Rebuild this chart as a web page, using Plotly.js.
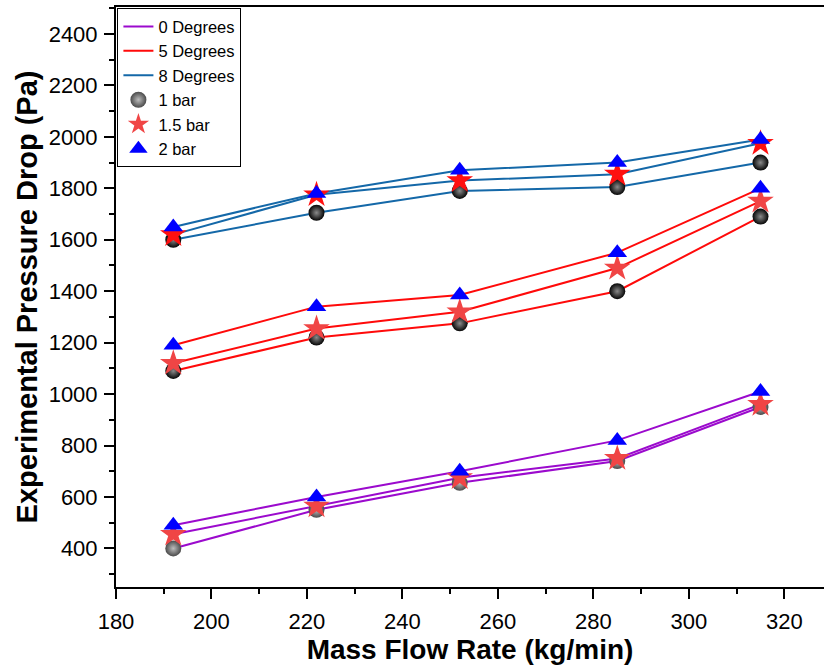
<!DOCTYPE html>
<html>
<head>
<meta charset="utf-8">
<script src="https://cdn.plot.ly/plotly-3.0.1.min.js"></script>
<style>html,body{margin:0;padding:0;background:#fff;overflow:hidden}#chart{width:824px;height:672px}</style>
</head>
<body>
<div id="chart"></div>
<script>
// Data
const massFlow = [192, 222, 252, 285, 315];
const degreeNames = ['0 Degrees', '5 Degrees', '8 Degrees'];
const pressureNames = ['1 bar', '1.5 bar', '2 bar'];

const deg0_1bar  = [400, 550, 655, 740, 950];
const deg0_15bar = [455, 565, 675, 750, 960];
const deg0_2bar  = [490, 600, 700, 820, 1010];

const deg5_1bar  = [1090, 1220, 1275, 1400, 1690];
const deg5_15bar = [1120, 1255, 1320, 1490, 1750];
const deg5_2bar  = [1190, 1340, 1385, 1550, 1800];

const deg8_1bar  = [1600, 1705, 1790, 1805, 1900];
const deg8_15bar = [1620, 1775, 1830, 1855, 1975];
const deg8_2bar  = [1650, 1780, 1870, 1900, 1990];

const series = [
  [deg0_1bar, deg0_15bar, deg0_2bar],
  [deg5_1bar, deg5_15bar, deg5_2bar],
  [deg8_1bar, deg8_15bar, deg8_2bar]
];

const lineColors = ['#9B0ACD', '#FF0A0A', '#1468A8'];
const FONT = 'Arial, "Liberation Sans", sans-serif';

const traces = [];
// line traces
series.forEach((grp, d) => {
  grp.forEach((vals, p) => {
    traces.push({
      x: massFlow, y: vals, type: 'scatter', mode: 'lines',
      name: degreeNames[d], legendgroup: 'deg' + d,
      showlegend: p === 0,
      line: {color: lineColors[d], width: 2},
      hoverinfo: 'skip'
    });
  });
});

// marker traces (one per pressure, spanning all angles)
const sphereColors = ['#4a4a4a', '#050505', '#050505'];
const sphereCenters = ['#bdbdbd', '#8a8a8a', '#8a8a8a'];
const starColors = ['#F04545', '#F04545', '#FF1010'];
const markerStyles = [
  () => ({symbol: 'circle', size: 16, gradient: {type: 'radial'}, line: {width: 0}}),
  () => ({symbol: 'star', size: 20, line: {width: 0}}),
  () => ({symbol: 'triangle-up', size: 17, line: {width: 0}})
];

pressureNames.forEach((pn, p) => {
  const xs = [], ys = [], cols = [], cents = [];
  series.forEach((grp, d) => {
    grp[p].forEach((v, i) => {
      xs.push(massFlow[i]); ys.push(v);
      cols.push(p === 0 ? sphereColors[d] : (p === 1 ? starColors[d] : '#0000FF'));
      cents.push(sphereCenters[d]);
    });
  });
  const m = markerStyles[p]();
  m.color = cols;
  if (m.gradient) m.gradient.color = cents;
  traces.push({x: xs, y: ys, type: 'scatter', mode: 'markers', name: pn, marker: m});
});

const layout = {
  width: 824, height: 672,
  margin: {l: 116, r: 0, t: 7, b: 85},
  paper_bgcolor: '#fff', plot_bgcolor: '#fff',
  font: {family: FONT, color: '#000'},
  showlegend: true,
  legend: {
    x: 0.002, y: 0.998, xanchor: 'left', yanchor: 'top',
    bgcolor: '#fff', bordercolor: '#000', borderwidth: 1,
    font: {family: FONT, size: 16.5, color: '#000'},
    tracegroupgap: 0
  },
  xaxis: {
    range: [180, 328.3],
    tickmode: 'linear', tick0: 180, dtick: 20,
    ticks: 'outside', ticklen: 10, tickwidth: 2, tickcolor: '#000',
    minor: {dtick: 10, ticks: 'outside', ticklen: 5, tickwidth: 2, tickcolor: '#000'},
    showline: true, linecolor: '#000', linewidth: 2, mirror: true,
    showgrid: false, zeroline: false,
    ticklabelstandoff: 4,
    tickfont: {family: FONT, size: 22, color: '#000'},
    title: {text: '<b>Mass Flow Rate (kg/min)</b>', font: {family: FONT, size: 28, color: '#000'}, standoff: 6}
  },
  yaxis: {
    range: [250, 2505],
    tickmode: 'array', tickvals: [400, 600, 800, 1000, 1200, 1400, 1600, 1800, 2000, 2200, 2400],
    ticks: 'outside', ticklen: 10, tickwidth: 2, tickcolor: '#000',
    minor: {tickmode: 'array', tickvals: [300, 500, 700, 900, 1100, 1300, 1500, 1700, 1900, 2100, 2300, 2500], ticks: 'outside', ticklen: 5, tickwidth: 2, tickcolor: '#000'},
    showline: true, linecolor: '#000', linewidth: 2, mirror: true,
    showgrid: false, zeroline: false,
    ticklabelstandoff: 2,
    tickfont: {family: FONT, size: 22, color: '#000'},
    title: {text: '<b>Experimental Pressure Drop (Pa)</b>', font: {family: FONT, size: 29, color: '#000'}, standoff: 2}
  }
};

Plotly.newPlot('chart', traces, layout, {displayModeBar: false, staticPlot: true});
</script>
</body>
</html>
